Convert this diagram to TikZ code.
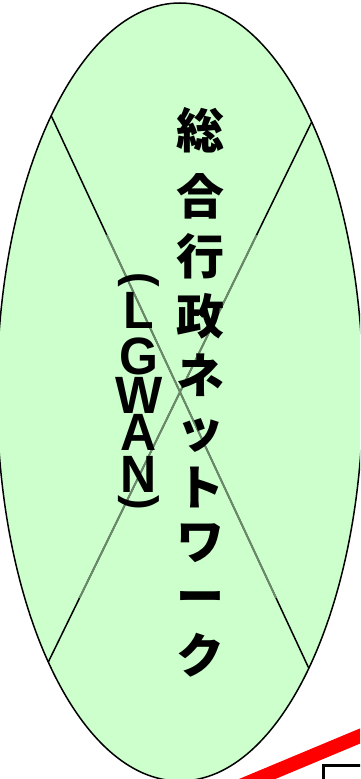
\documentclass[tikz,border=0pt]{standalone}
\usepackage{fontspec}
\newfontfamily\jpfont{Noto Sans CJK JP}
\newfontfamily\latfont{Liberation Sans}
\usetikzlibrary{shapes.geometric}
\definecolor{lgreen}{HTML}{CCFFCC}
\definecolor{xgray}{HTML}{6B886B}
\definecolor{pred}{HTML}{FF0000}
\tikzset{
  jpchar/.style={font=\jpfont\bfseries\fontsize{48}{48}\selectfont, inner sep=0pt, anchor=center},
  latchar/.style={font=\latfont\bfseries\fontsize{50}{50}\selectfont, inner sep=0pt, anchor=center, yscale=1.05},
  parchar/.style={font=\latfont\bfseries\fontsize{44}{44}\selectfont, inner sep=0pt, anchor=center},
  xline/.style={line width=1.5pt, black},
  xlinegray/.style={line width=1.9pt, xgray},
}
\begin{document}
\begin{tikzpicture}[x=1pt,y=-1pt]
\useasboundingbox (0,0) rectangle (360,779);
\begin{scope}
\clip (0,0) rectangle (360,779);
\node[ellipse, draw=black, line width=1.5pt, fill=lgreen, minimum width=366pt, minimum height=778pt, inner sep=0pt, outer sep=0pt] (e) at (180,392) {};
\draw[xline] (e.64.5) -- (e.244.5);
\draw[xline] (e.115.5) -- (e.295.5);
\begin{scope}
\clip (0,235) rectangle (360,597);
\draw[xlinegray] (e.64.5) -- (e.244.5);
\draw[xlinegray] (e.115.5) -- (e.295.5);
\end{scope}
\coordinate (r1) at (226,792);
\coordinate (r2) at (372,731);
\draw[pred, line width=14pt] (r1) -- (r2);
\coordinate (b1) at (323,800);
\coordinate (b2) at (380,765);
\draw[black, line width=3pt] (b1) |- (b2);
\end{scope}
% main vertical text
\node[jpchar] (t1) at (200,130) {総};
\node[jpchar] (t2) at (200,196) {合};
\node[jpchar] (t3) at (200,256) {行};
\node[jpchar] (t4) at (200,316) {政};
\node[jpchar] (t5) at (200,375) {ネ};
\node[jpchar] (t6) at (200,435) {ッ};
\node[jpchar] (t7) at (200,487) {ト};
\node[jpchar] (t8) at (200,543) {ワ};
\node[jpchar] (t9) at (200,603) {ー};
\node[jpchar] (t10) at (200,655) {ク};
% LGWAN
\node[parchar, rotate=-90] (p1) at (139,280) {(};
\node[latchar] (l1) at (139,310) {L};
\node[latchar] (l2) at (139,356) {G};
\node[latchar] (l3) at (139,395) {W};
\node[latchar] (l4) at (139,432) {A};
\node[latchar] (l5) at (139,474) {N};
\node[parchar, rotate=-90] (p2) at (139,503) {)};
\end{tikzpicture}
\end{document}
